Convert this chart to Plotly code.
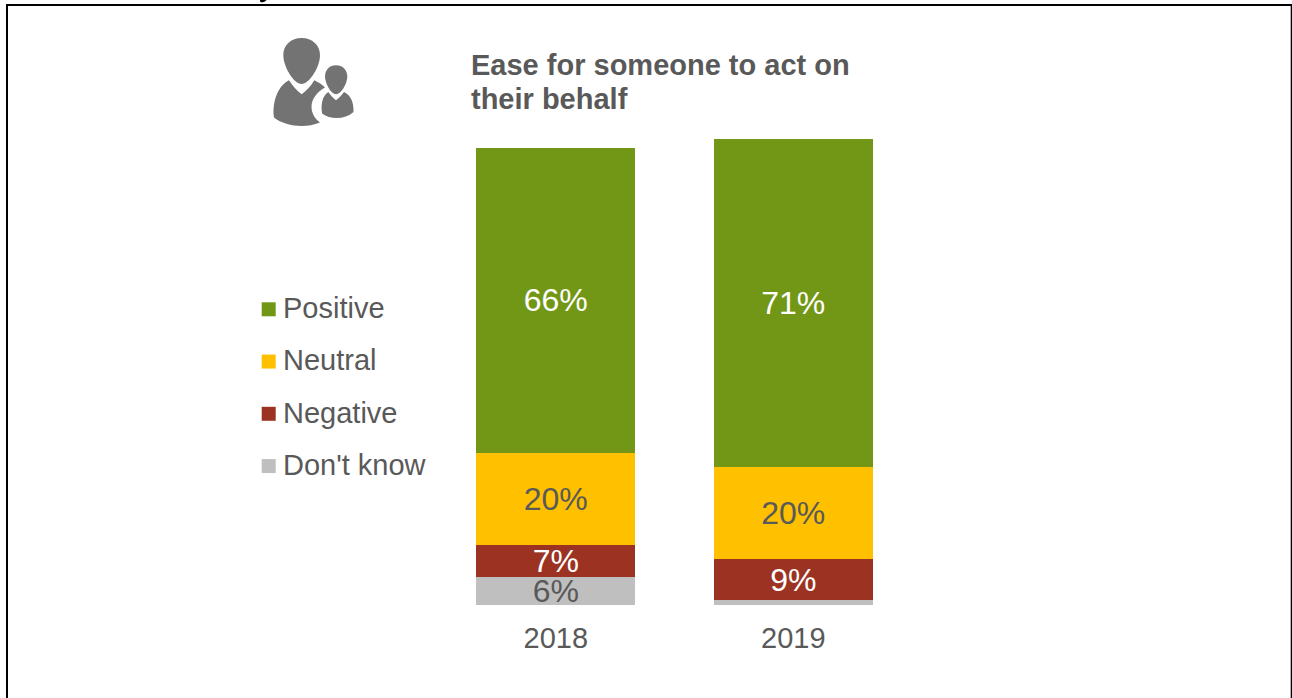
import plotly.graph_objects as go

W, H = 1292, 698
PLOT_L, PLOT_R, PLOT_T, PLOT_B = 437, 912, 139, 605

years = ["2018", "2019"]
positive = [66, 71]
neutral = [20, 20]
negative = [7, 9]
dont_know = [6, 1]
positive_labels = ["66%", "71%"]
neutral_labels = ["20%", "20%"]
negative_labels = ["7%", "9%"]
dont_know_labels = ["6%", ""]
axis_top = 101

series_names = ["Positive", "Neutral", "Negative", "Don't know"]
series_colors = ["#729717", "#FFC000", "#9C3322", "#BFBFBF"]
label_colors = ["#FFFFFF", "#595959", "#FFFFFF", "#595959"]
heading_lines = ["Ease for someone to act on", "their behalf"]
TEXT = "#595959"
FONT = "Liberation Sans, Arial, sans-serif"


def px(x):
    return (x - PLOT_L) / (PLOT_R - PLOT_L)


def py(y):
    return (PLOT_B - y) / (PLOT_B - PLOT_T)


def svg_path(start, *curves):
    """Closed path in paper units; each curve is a cubic (x1, y1, x2, y2, x, y) in page pixels."""
    parts = [f"M{px(start[0]):.5f},{py(start[1]):.5f}"]
    for c in curves:
        pts = [f"{px(c[i]):.5f},{py(c[i + 1]):.5f}" for i in range(0, 6, 2)]
        parts.append("C" + " ".join(pts))
    parts.append("Z")
    return " ".join(parts)


fig = go.Figure()

# Stacked bars, bottom segment first
stack = [
    (dont_know, dont_know_labels, 3),
    (negative, negative_labels, 2),
    (neutral, neutral_labels, 1),
    (positive, positive_labels, 0),
]
for values, labels, idx in stack:
    fig.add_trace(go.Bar(
        x=years, y=values, name=series_names[idx],
        marker=dict(color=series_colors[idx], line=dict(width=0)),
        text=labels, texttemplate="%{text}", textposition="inside",
        insidetextanchor="middle", textangle=0, constraintext="none",
        insidetextfont=dict(family=FONT, size=32, color=label_colors[idx]),
        cliponaxis=False, showlegend=False, hoverinfo="x+y+name",
    ))

shapes = []

# Frame around the panel: left, top and right edges
for x0, y0, x1, y1 in [(6, 4, 8, H), (6, 4, W, 6), (1290.7, 4, W, H)]:
    shapes.append(dict(type="rect", xref="paper", yref="paper",
                       x0=px(x0), x1=px(x1), y0=py(y0), y1=py(y1),
                       fillcolor="#000000", line=dict(width=0), layer="above"))

# Legend swatches and labels
annotations = []
for i, (name, color) in enumerate(zip(series_names, series_colors)):
    cy = 309.3 + i * 52.25
    shapes.append(dict(type="rect", xref="paper", yref="paper",
                       x0=px(261.7), x1=px(275.7), y0=py(cy - 7), y1=py(cy + 7),
                       fillcolor=color, line=dict(width=0)))
    annotations.append(dict(text=name, xref="paper", yref="paper", showarrow=False,
                            x=px(281.3), y=py(cy - 1.1), xanchor="left", yanchor="middle",
                            font=dict(family=FONT, size=29, color=TEXT)))

# Heading, one annotation per line to keep the tight line spacing
for line, cy in zip(heading_lines, (65, 99)):
    annotations.append(dict(
        text=f"<b>{line}</b>", xref="paper", yref="paper", showarrow=False,
        x=px(469.4), y=py(cy), xanchor="left", yanchor="middle",
        font=dict(family=FONT, size=29, color=TEXT),
    ))

# Person-and-child pictogram
ICON = "#737373"
adult_head = svg_path((301.7, 38),
                      (312, 38, 320.5, 45, 320, 56),
                      (319.5, 68, 309, 84, 301.7, 84),
                      (294, 84, 284, 68, 283.3, 56),
                      (283, 45, 291, 38, 301.7, 38))
adult_body = svg_path((289, 80.3),
                      (293, 86, 297, 91, 301.7, 94.3),
                      (306, 91, 311, 86, 314.3, 80.3),
                      (318, 82, 322, 84.5, 325, 87.5),
                      (317, 92, 311.5, 99, 311.5, 107),
                      (311.5, 113, 315, 119, 320, 122.5),
                      (314, 125, 308, 126, 301.7, 126),
                      (291, 126, 281, 123, 274, 117.5),
                      (272, 104, 277, 86, 289, 80.3))
child_head = svg_path((336, 65.3),
                      (342.5, 65.3, 347.5, 70, 347.3, 77),
                      (347, 84, 341, 94.3, 336, 94.3),
                      (331, 94.3, 325.5, 84, 325, 77),
                      (324.8, 70, 329.5, 65.3, 336, 65.3))
child_body = svg_path((328.3, 92),
                      (330.5, 95, 333, 98, 336, 100.3),
                      (339, 98, 341.8, 95, 344, 92),
                      (350, 95, 354, 101, 353.5, 112),
                      (349, 116, 343, 118, 336.7, 118),
                      (331, 118, 326, 116.5, 322.3, 113.7),
                      (320.5, 106, 322, 96, 328.3, 92))
# Clipped descender of a line of text above the frame
descender = svg_path((260, 0),
                     (261.5, 0, 264, 0, 266.5, 0),
                     (265.5, 1.5, 263, 2.5, 260.5, 2.3),
                     (260.2, 1.5, 260.1, 0.8, 260, 0))
for path, fill in [(adult_head, ICON), (adult_body, ICON), (child_head, ICON),
                   (child_body, ICON), (descender, "#000000")]:
    shapes.append(dict(type="path", xref="paper", yref="paper", path=path,
                       fillcolor=fill, line=dict(width=0)))

fig.update_layout(
    width=W, height=H,
    barmode="stack", bargap=0.33,
    margin=dict(l=PLOT_L, r=W - PLOT_R, t=PLOT_T, b=H - PLOT_B, pad=0, autoexpand=False),
    paper_bgcolor="#FFFFFF", plot_bgcolor="#FFFFFF",
    showlegend=False,
    xaxis=dict(type="category", showgrid=False, zeroline=False, showline=False,
               ticks="outside", ticklen=7, tickcolor="rgba(0,0,0,0)",
               tickfont=dict(family=FONT, size=29, color=TEXT)),
    yaxis=dict(range=[0, axis_top], visible=False, showgrid=False, zeroline=False),
    shapes=shapes, annotations=annotations,
)

fig.write_html("out.html", config=dict(displayModeBar=False))
